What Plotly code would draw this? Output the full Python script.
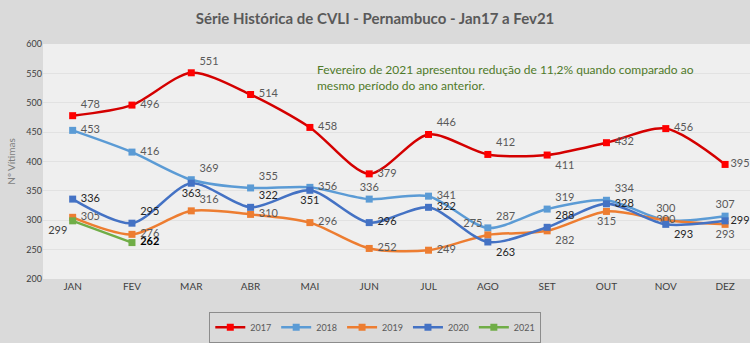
import plotly.graph_objects as go

months = ["JAN", "FEV", "MAR", "ABR", "MAI", "JUN", "JUL", "AGO", "SET", "OUT", "NOV", "DEZ"]
v2017 = [478, 496, 551, 514, 458, 379, 446, 412, 411, 432, 456, 395]
v2018 = [453, 416, 369, 355, 356, 336, 341, 287, 319, 334, 300, 307]
v2019 = [305, 276, 316, 310, 296, 252, 249, 275, 282, 315, 300, 293]
v2020 = [336, 295, 363, 322, 351, 296, 322, 263, 288, 328, 293, 299]
v2021 = [299, 262]

pos2017 = ["top right", "middle right", "top right", "middle right", "middle right", "middle right",
           "top right", "top right", "bottom right", "middle right", "middle right", "middle right"]
pos2018 = ["middle right", "middle right", "top right", "top right", "middle right", "top center",
           "middle right", "top right", "top right", "top right", "top center", "top center"]
pos2019 = ["middle right", "middle right", "top right", "middle right", "middle right", "middle right",
           "middle right", "top left", "bottom right", "bottom center", "middle center", "bottom center"]
pos2020 = ["middle right", "top right", "bottom center", "top right", "bottom center", "middle right",
           "middle right", "bottom right", "top right", "middle right", "bottom right", "middle right"]
pos2021 = ["bottom left", "middle right"]

series = [
    ("2017", v2017, pos2017, "#d40000", "#ff0000", "#595959"),
    ("2018", v2018, pos2018, "#5b9bd5", "#5b9bd5", "#595959"),
    ("2019", v2019, pos2019, "#ed7d31", "#ed7d31", "#595959"),
    ("2020", v2020, pos2020, "#4472c4", "#4472c4", "#262626"),
    ("2021", v2021, pos2021, "#70ad47", "#70ad47", "#404040"),
]

fig = go.Figure()
for name, vals, pos, lc, mc, tc in series:
    texts = []
    for i, (v, p) in enumerate(zip(vals, pos)):
        s = str(v)
        if name == "2021" and i == 1:
            s = "<b>" + s + "</b>"
        if p.endswith("right") and i < 11:
            s = " " + s
        texts.append(s)
    tcol = ["#404040", "#000000"] if name == "2021" else tc
    fig.add_trace(go.Scatter(
        x=months[:len(vals)], y=vals, name=name,
        mode="lines+markers+text",
        line=dict(color=lc, width=2.5, shape="spline", smoothing=0.8),
        marker=dict(symbol="square", size=7, color=mc),
        text=texts, textposition=pos,
        textfont=dict(family="Lato, Open Sans, sans-serif", size=11, color=tcol),
        cliponaxis=False,
    ))

fig.update_layout(
    width=750, height=343,
    margin=dict(l=43, r=0, t=44, b=59),
    paper_bgcolor="#dadada",
    plot_bgcolor="#efefef",
    title=dict(text="<b>Série Histórica de CVLI - Pernambuco - Jan17 a Fev21</b>",
               x=0.5, xanchor="center", y=0.945, yanchor="middle",
               font=dict(family="Lato, Open Sans, sans-serif", size=15, color="#595959")),
    font=dict(family="Lato, Open Sans, sans-serif"),
    xaxis=dict(type="category", categoryorder="array", categoryarray=months,
               range=[-0.5, 11.42], showgrid=False, zeroline=False, showline=False,
               ticks="", tickfont=dict(size=10, color="#404040")),
    yaxis=dict(range=[200, 600], dtick=50, showgrid=True, gridcolor="#e2e2e2", gridwidth=1,
               zeroline=False, showline=False, ticks="",
               tickfont=dict(size=9, color="#404040"),
               title=dict(text="Nº Vítimas", font=dict(size=10, color="#7f7f7f"), standoff=8)),
    legend=dict(orientation="h", x=0.47, xanchor="center",
                y=-0.205, yanchor="middle",
                bgcolor="#dadada", bordercolor="#8c8c8c", borderwidth=1,
                font=dict(size=9, color="#595959"), itemwidth=30, tracegroupgap=0),
    showlegend=True,
)

fig.add_annotation(
    text="Fevereiro de 2021 apresentou redução de 11,2% quando comparado ao<br>mesmo período do ano anterior.",
    xref="paper", yref="paper", x=0.385, y=0.93, xanchor="left", yanchor="top",
    align="left", showarrow=False,
    font=dict(family="Lato, Open Sans, sans-serif", size=12, color="#4f7a2a"),
)

fig.write_html("out.html")
